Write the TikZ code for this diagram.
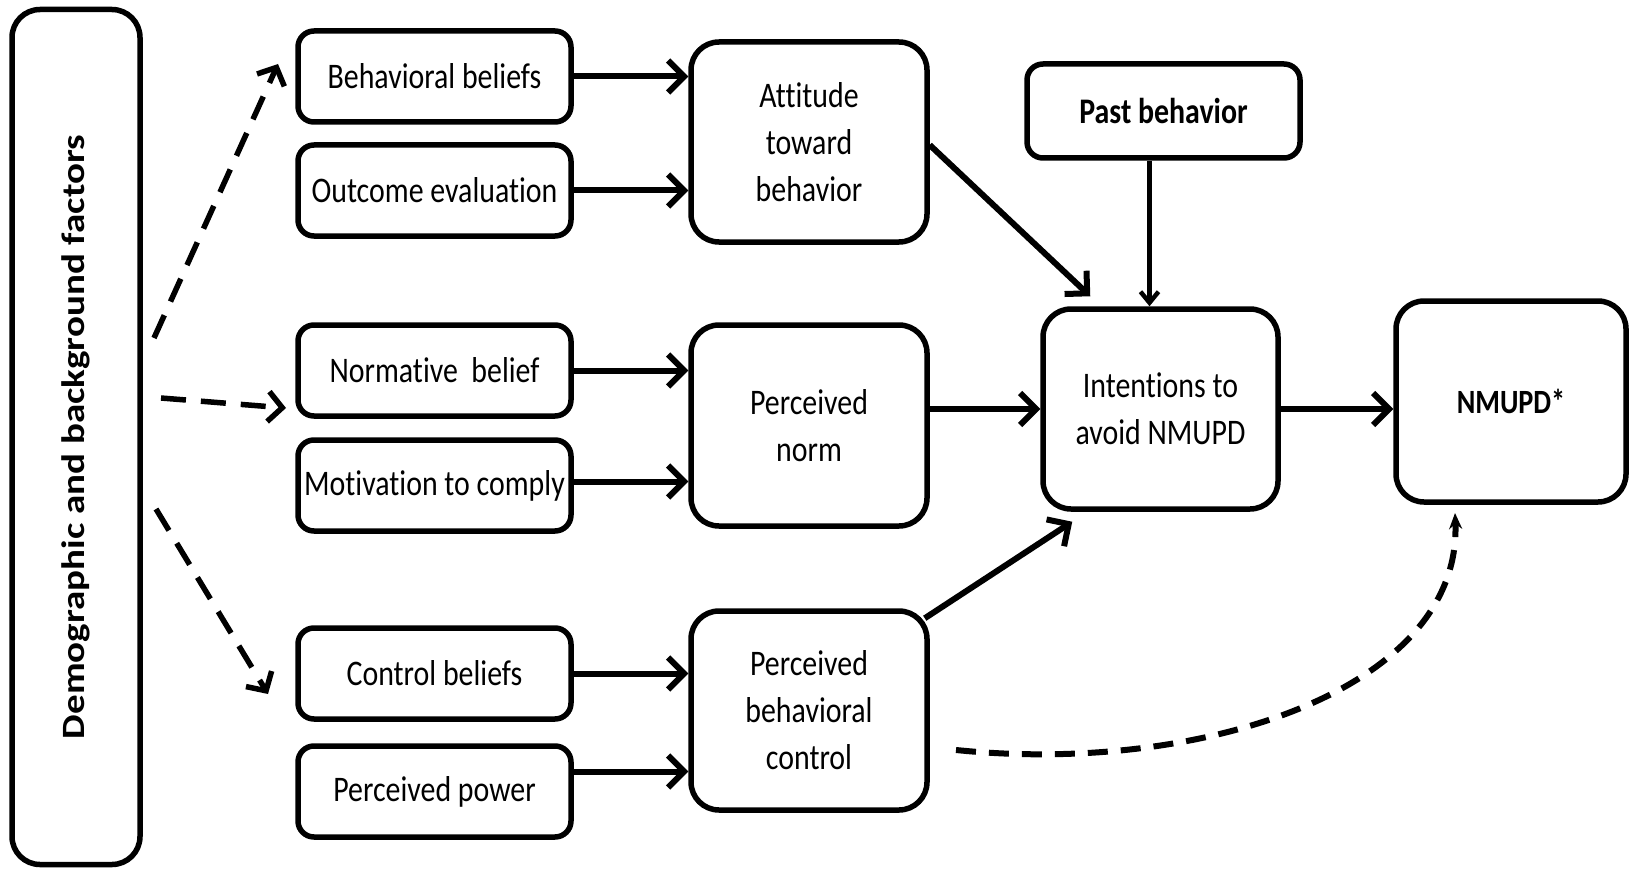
\documentclass[tikz,border=0pt]{standalone}
\usepackage{fontspec}
\setmainfont{Carlito}[FakeStretch=0.83,Ligatures=NoCommon]
\newfontfamily\rotfont{Carlito}[FakeStretch=1.2,Ligatures=NoCommon]
\usetikzlibrary{arrows.meta}
\begin{document}
\begin{tikzpicture}[x=1pt,y=-1pt,
  box/.style={draw, line width=5.5pt, rounded corners=16pt, align=center, inner sep=0pt, font=\fontsize{36}{47}\selectfont},
  small/.style={box, minimum width=273pt, minimum height=91pt},
  big/.style={box, rounded corners=28pt, minimum width=236pt, minimum height=200pt},
  arr/.style={line width=6pt, -{Straight Barb[length=16pt,width=32pt]}},
  thinarr/.style={line width=4.5pt, -{Straight Barb[length=11pt,width=18pt]}},
  dasharr/.style={line width=5.5pt, dash pattern=on 25pt off 15pt, -{Straight Barb[length=14pt,width=30pt]}},
  curvearr/.style={line width=6pt, dash pattern=on 20pt off 13pt, -{Stealth[length=16pt,width=13pt]}}
]
\useasboundingbox (0,0) rectangle (1629,869);
% nodes
\node[box, rounded corners=28pt, minimum width=128pt, minimum height=855pt] (demo) at (76,437)
  {\rotatebox{90}{\rotfont\fontsize{32.5}{38}\selectfont\bfseries Demographic and background factors}};
\node[small] (bb) at (434.5,76.5) {Behavioral beliefs};
\node[small] (oe) at (434.5,190.5) {Outcome evaluation};
\node[big] (att) at (809,142) {Attitude\\toward\\behavior};
\node[small, minimum height=94pt, font=\fontsize{36}{47}\selectfont\bfseries] (past) at (1163.5,111) {Past behavior};
\node[small] (nb) at (434.5,370.5) {Normative\ \ belief};
\node[small] (mc) at (434.5,485.5) {Motivation to comply};
\node[big, minimum height=201pt] (pn) at (809,425.5) {Perceived\\norm};
\node[big, minimum width=235pt] (int) at (1160.5,409) {Intentions to\\avoid NMUPD};
\node[big, minimum width=230pt, minimum height=201pt, font=\fontsize{34}{44}\selectfont\bfseries] (nm) at (1511,401.5) {NMUPD*};
\node[small] (cb) at (434.5,673.5) {Control beliefs};
\node[small] (pp) at (434.5,791.5) {Perceived power};
\node[big, minimum height=199pt] (pbc) at (809,710.5) {Perceived\\behavioral\\control};
% free ends
\coordinate (d1s) at (154,338);
\coordinate (d1e) at (278,64);
\coordinate (d2s) at (161,398);
\coordinate (d2e) at (286,408);
\coordinate (d3s) at (156,509);
\coordinate (d3e) at (268,694);
\coordinate (cs) at (956,750);
\coordinate (ce) at (1455,513);
% connectors
\draw[arr] (bb.east) -- (bb.east -| att.west);
\draw[arr] (oe.east) -- (oe.east -| att.west);
\draw[arr] ([yshift=-3pt]att.east) -- ([xshift=50pt,yshift=10pt]int.north west);
\draw[thinarr] ([xshift=-14pt]past.south) -- ([xshift=-14pt]past.south |- int.north);
\draw[arr] (nb.east) -- (nb.east -| pn.west);
\draw[arr] ([yshift=4pt]mc.east) -- ([yshift=4pt]mc.east -| pn.west);
\draw[arr] (int.west -| pn.east) -- (int.west);
\draw[arr] (int.east) -- (int.east -| nm.west);
\draw[arr] (cb.east) -- (cb.east -| pbc.west);
\draw[arr] ([yshift=20pt]pp.east) -- ([yshift=20pt]pp.east -| pbc.west);
\draw[arr] ([xshift=-5pt,yshift=-10pt]pbc.north east) -- ([xshift=32pt,yshift=-10pt]int.south west);
\draw[dasharr] (d1s) -- (d1e);
\draw[dasharr] (d2s) -- (d2e);
\draw[dasharr] (d3s) -- (d3e);
\draw[curvearr] (cs) .. controls (1200,775) and (1462,690) .. (ce);
\end{tikzpicture}
\end{document}
